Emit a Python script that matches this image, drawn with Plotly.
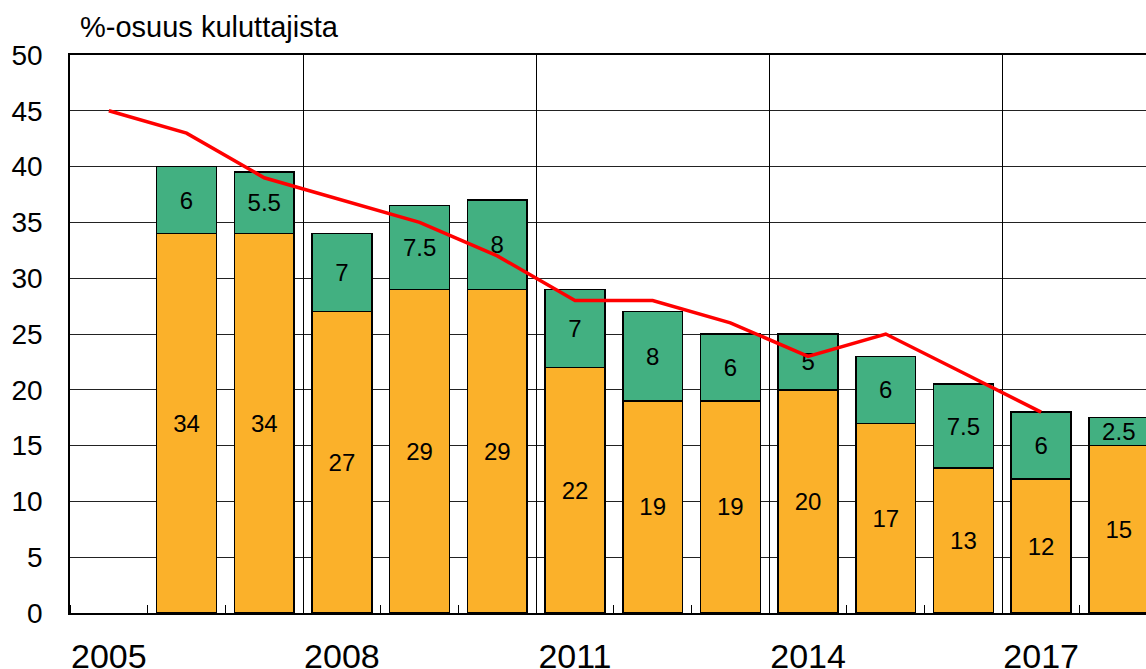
import plotly.graph_objects as go

years = [2006, 2007, 2008, 2009, 2010, 2011, 2012, 2013, 2014, 2015, 2016, 2017, 2018]
orange_vals = [34, 34, 27, 29, 29, 22, 19, 19, 20, 17, 13, 12, 15]
green_vals = [6, 5.5, 7, 7.5, 8, 7, 8, 6, 5, 6, 7.5, 6, 2.5]
line_years = [2005, 2006, 2007, 2008, 2009, 2010, 2011, 2012, 2013, 2014, 2015, 2016, 2017]
line_vals = [45, 43, 39, 37, 35, 32, 28, 28, 26, 23, 25, 21.5, 18]
label_years = [2005, 2008, 2011, 2014, 2017]
y_ticks = [0, 5, 10, 15, 20, 25, 30, 35, 40, 45, 50]
boundaries = [y + 0.5 for y in range(2004, 2019)]
grid_boundaries = [2007.5, 2010.5, 2013.5, 2016.5]

FONT = "Liberation Sans, Arial, sans-serif"
ORANGE = "#FBB12A"
GREEN = "#42B081"

fig = go.Figure()
fig.add_trace(go.Bar(
    x=years, y=orange_vals, width=0.77,
    marker=dict(color=ORANGE, line=dict(color="black", width=1.5)),
    text=[str(v) for v in orange_vals], textposition="inside",
    insidetextanchor="middle", textangle=0,
    textfont=dict(family=FONT, size=24, color="black"),
    showlegend=False, hoverinfo="skip",
))
fig.add_trace(go.Bar(
    x=years, y=green_vals, width=0.77,
    marker=dict(color=GREEN, line=dict(color="black", width=1.5)),
    text=[("%g" % v) for v in green_vals], textposition="inside",
    insidetextanchor="middle", textangle=0,
    textfont=dict(family=FONT, size=24, color="black"),
    showlegend=False, hoverinfo="skip",
))
fig.add_trace(go.Scatter(
    x=line_years, y=line_vals, mode="lines",
    line=dict(color="#FF0000", width=3.5),
    showlegend=False, hoverinfo="skip",
))
# invisible trace to activate the grid axis
fig.add_trace(go.Scatter(x=[2005], y=[0], xaxis="x2", mode="markers",
                         marker=dict(opacity=0), showlegend=False, hoverinfo="skip"))

xr = [2004.5, 2018.35]
fig.update_layout(
    width=1146, height=669,
    margin=dict(l=70, r=0, t=55, b=56),
    paper_bgcolor="white", plot_bgcolor="white",
    barmode="stack",
    uniformtext=dict(minsize=24, mode="show"),
    font=dict(family=FONT, color="black"),
    xaxis=dict(
        range=xr, tickvals=label_years, ticktext=[str(y) for y in label_years],
        ticks="", showgrid=False, zeroline=False, automargin=False,
        showline=True, linecolor="black", linewidth=1.5,
        tickfont=dict(size=34, family=FONT, color="black"),
        ticklabelstandoff=12,
        minor=dict(tickvals=boundaries, ticks="inside", ticklen=8,
                   tickcolor="black", tickwidth=1.2, showgrid=False),
    ),
    xaxis2=dict(
        range=xr, overlaying="x", side="top", tickvals=grid_boundaries, showgrid=True,
        gridcolor="black", gridwidth=1.3, showticklabels=False, ticks="",
        zeroline=False, showline=True, linecolor="black", linewidth=1.5,
        automargin=False,
    ),
    yaxis=dict(
        range=[0, 50], tickvals=y_ticks, ticks="", automargin=False,
        showgrid=True, gridcolor="#222222", gridwidth=1.3,
        zeroline=False, showline=True, linecolor="black", linewidth=1.5,
        tickfont=dict(size=28, family=FONT, color="black"),
        ticklabelstandoff=20,
    ),
    annotations=[dict(
        text="%-osuus kuluttajista", xref="paper", yref="paper",
        x=(78 - 70) / 1076, y=(613 - 27) / 558, xanchor="left", yanchor="middle",
        showarrow=False, font=dict(size=29, family=FONT, color="black"),
    )],
)
fig.write_html(
    "out.html",
    config={"displayModeBar": False},
    post_script="document.body.style.margin='0';document.body.style.overflow='hidden';",
)
